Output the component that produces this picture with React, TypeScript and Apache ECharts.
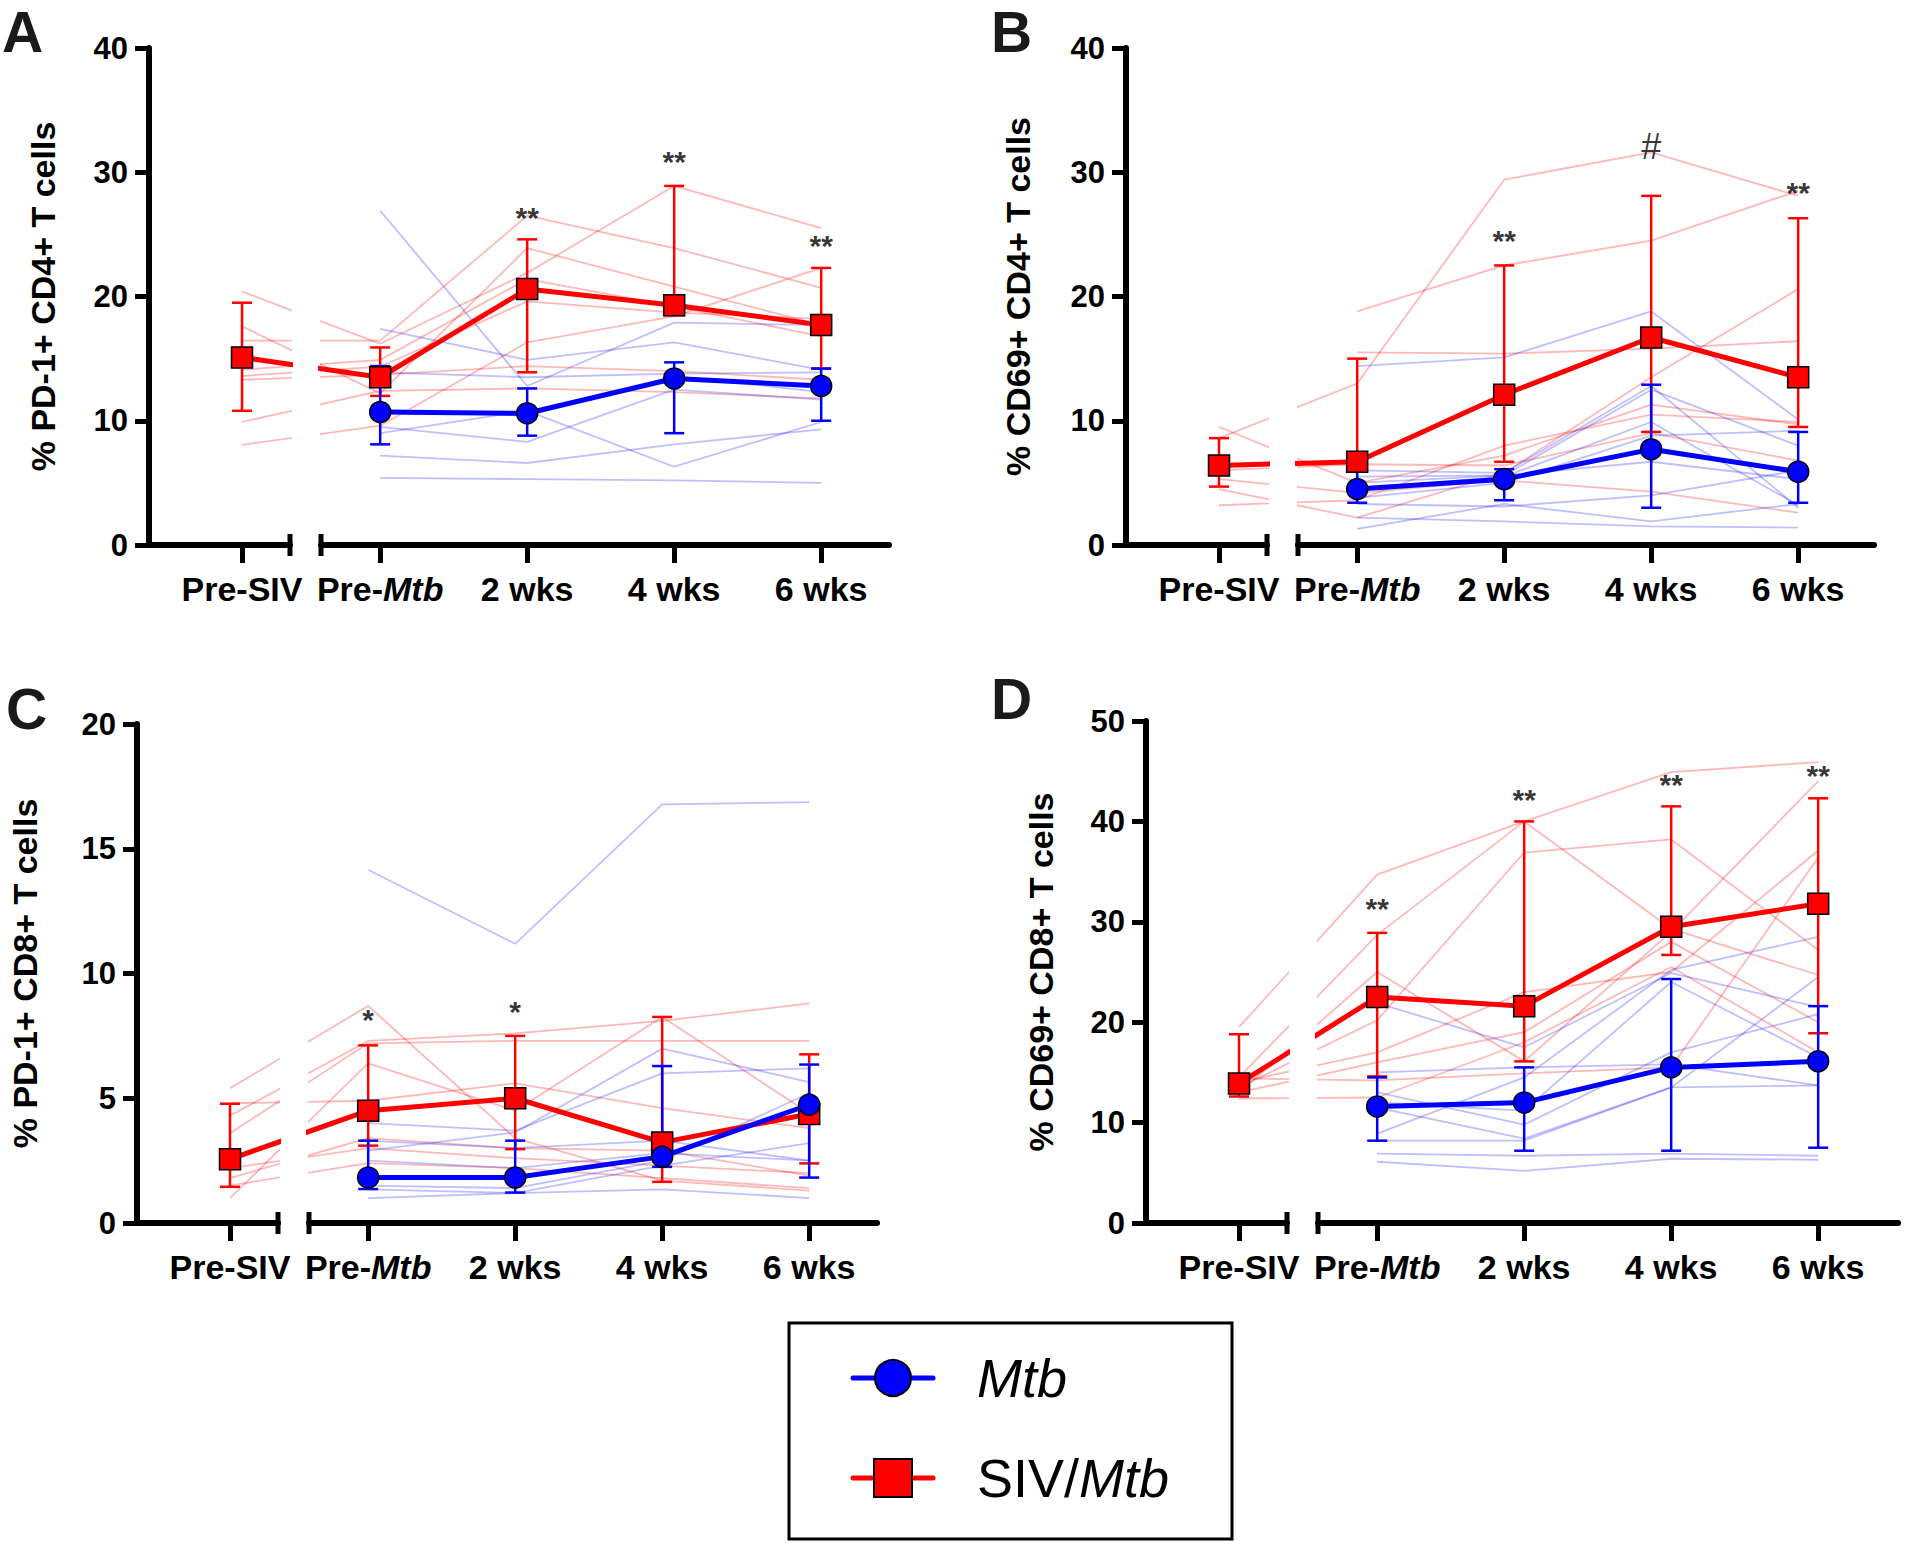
import React, { useEffect, useRef } from 'react';
import * as echarts from 'echarts';

// ---------- DATA ----------
const timepoints = ['Pre-SIV', 'Pre-Mtb', '2 wks', '4 wks', '6 wks'];
const timeX = [0, 0.94, 1.94, 2.94, 3.94];

// Panel A: % PD-1+ CD4+ T cells
const aRedMean = [15.1, 13.5, 20.6, 19.3, 17.7];
const aRedLow = [10.8, 12.0, 13.9, 18.5, 14.2];
const aRedHigh = [19.5, 15.9, 24.6, 28.9, 22.3];
const aBlueMean = [10.7, 10.6, 13.4, 12.8];
const aBlueLow = [8.1, 8.8, 9.0, 10.0];
const aBlueHigh = [14.4, 12.6, 14.7, 14.2];
const aRedAnimals = [
  [20.4, 16.2, 21.9, 28.9, 25.5],
  [16.45, 16.45, 26.5, 23.9, 20.7],
  [17.6, 12.2, 23.9, 20.8, 17.7],
  [14.1, 14.9, 21.4, 19.2, 16.8],
  [13.6, 14.35, 19.6, 18.7, 18.2],
  [13.3, 13.7, 14.4, 14.0, 13.3],
  [9.9, 12.4, 12.6, 12.3, 11.8],
  [8.06, 9.6, 16.3, 18.4, 22.3],
];
const aBlueAnimals = [
  [26.9, 12.8, 17.9, 17.7],
  [17.4, 14.9, 16.3, 14.1],
  [13.9, 13.5, 13.8, 13.9],
  [10.9, 10.4, 13.6, 12.3],
  [9.0, 10.8, 6.3, 9.9],
  [9.5, 8.3, 12.5, 11.7],
  [7.2, 6.6, 8.1, 9.3],
  [5.4, 5.3, 5.2, 5.0],
];
const aSigIdx = [2, 3, 4];
const aSigY = [26.9, 31.4, 24.7];
const aSigText = ['**', '**', '**'];

// Panel B: % CD69+ CD4+ T cells
const bRedMean = [6.4, 6.7, 12.1, 16.7, 13.5];
const bRedLow = [4.7, 6.2, 6.7, 9.1, 9.5];
const bRedHigh = [8.6, 15.0, 22.5, 28.1, 26.3];
const bBlueMean = [4.5, 5.3, 7.7, 5.9];
const bBlueLow = [3.4, 3.6, 3.0, 3.4];
const bBlueHigh = [6.1, 6.1, 12.9, 9.1];
const bRedAnimals = [
  [8.6, 13.0, 29.4, 31.6, 28.1],
  [9.5, 5.0, 7.2, 11.3, 9.7],
  [null, 18.8, 22.5, 24.5, 28.5],
  [5.3, 4.2, 5.2, 4.3, 2.6],
  [4.5, 2.2, 5.8, 13.5, 20.6],
  [3.2, 3.6, 8.0, 10.5, 9.9],
  [6.0, 6.5, 6.4, 9.0, 6.8],
  [null, 15.5, 15.4, 15.8, 16.4],
];
const bBlueAnimals = [
  [14.4, 15.1, 18.8, 10.1],
  [6.0, 5.8, 12.8, 3.0],
  [5.0, 5.6, 12.5, 8.0],
  [4.5, 5.5, 9.9, 3.2],
  [3.8, 5.0, 8.8, 9.2],
  [3.3, 3.1, 4.0, 6.0],
  [2.2, 1.9, 1.5, 1.4],
  [1.3, 3.3, 1.9, 3.3],
  [5.5, 5.6, 6.7, 5.3],
];
const bSigIdx = [2, 3, 4];
const bSigY = [25.1, 32.1, 28.95];
const bSigText = ['**', '#', '**'];

// Panel C: % PD-1+ CD8+ T cells
const cRedMean = [2.56, 4.5, 5.0, 3.23, 4.37];
const cRedLow = [1.45, 3.1, 2.96, 1.65, 2.39];
const cRedHigh = [4.78, 7.12, 7.5, 8.26, 6.76];
const cBlueMean = [1.82, 1.82, 2.66, 4.74];
const cBlueLow = [1.36, 1.22, 2.25, 1.82];
const cBlueHigh = [3.3, 3.3, 6.29, 6.35];
const cRedAnimals = [
  [5.4, 8.7, 3.4, 1.7, 1.3],
  [4.3, 7.3, 7.6, 8.1, 8.8],
  [3.6, 7.2, 7.3, 7.3, 7.3],
  [4.8, 4.9, 5.6, 4.6, 3.8],
  [1.0, 6.4, 4.5, 8.26, 4.4],
  [1.8, 3.4, 3.0, 2.9, 1.9],
  [1.5, 2.4, 2.2, 1.8, 1.4],
  [2.2, 3.0, 2.6, 2.3, 2.0],
];
const cBlueAnimals = [
  [14.16, 11.19, 16.78, 16.87],
  [2.9, 3.63, 6.99, 5.65],
  [4.0, 3.7, 6.0, 6.2],
  [3.3, 3.0, 3.3, 2.5],
  [2.5, 2.2, 2.8, 2.5],
  [1.35, 1.2, 1.35, 1.0],
  [1.0, 1.2, 2.3, 3.2],
  [1.5, 1.4, 2.5, 5.2],
];
const cSigIdx = [1, 2];
const cSigY = [8.44, 8.77];
const cSigText = ['*', '*'];

// Panel D: % CD69+ CD8+ T cells
const dRedMean = [13.9, 22.5, 21.6, 29.5, 31.8];
const dRedLow = [12.6, 14.6, 16.1, 26.7, 18.9];
const dRedHigh = [18.8, 28.9, 40.0, 41.5, 42.3];
const dBlueMean = [11.6, 12.0, 15.5, 16.1];
const dBlueLow = [8.2, 7.2, 7.2, 7.5];
const dBlueHigh = [14.5, 15.5, 24.3, 21.6];
const dRedAnimals = [
  [19.5, 34.7, 40.0, 44.9, 45.9],
  [14.5, 28.7, 40.0, 29.3, 24.7],
  [13.5, 20.2, 36.9, 38.2, 27.2],
  [13.0, 25.0, 16.1, 29.0, 44.0],
  [14.0, 17.0, 23.0, 25.0, 37.1],
  [14.4, 14.2, 14.9, 15.5, 36.4],
  [12.4, 12.5, 18.0, 25.5, 17.0],
  [13.0, 16.0, 19.0, 28.0, 20.0],
];
const dBlueAnimals = [
  [21.9, 17.5, 24.9, 21.5],
  [15.0, 15.5, 15.8, 13.7],
  [13.0, 9.8, 17.0, 20.8],
  [8.9, 14.5, 25.2, 28.5],
  [8.2, 8.2, 13.5, 13.7],
  [6.9, 6.7, 6.9, 6.7],
  [6.1, 5.2, 6.4, 6.3],
  [11.5, 8.4, 13.5, 24.5],
  [12.0, 11.2, 24.0, 16.5],
];
const dSigIdx = [1, 2, 3, 4];
const dSigY = [32.0, 42.9, 44.4, 45.3];
const dSigText = ['**', '**', '**', '**'];

const legendNames = ['Mtb', 'SIV/Mtb'];

// ---------- STYLE / LAYOUT ----------
const RED = '#ff0000';
const BLUE = '#0000ff';
const RED_LIGHT = 'rgba(255,0,0,0.28)';
const BLUE_LIGHT = 'rgba(0,0,255,0.25)';
const FONT = "'Liberation Sans', Arial, Helvetica, sans-serif";

const UNIT = 147; // px per x unit
const PRE = 93; // y axis -> Pre-SIV
const BREAK = 141; // y axis -> break end
const RSTART = 172; // y axis -> right segment start

const panels = [
  {
    letter: 'A', title: '% PD-1+ CD4+ T cells', yMax: 40, yInt: 10,
    redMean: aRedMean, redLow: aRedLow, redHigh: aRedHigh,
    blueMean: aBlueMean, blueLow: aBlueLow, blueHigh: aBlueHigh,
    redAnimals: aRedAnimals, blueAnimals: aBlueAnimals,
    sigIdx: aSigIdx, sigY: aSigY, sigText: aSigText,
    axisX: 149, top: 48, bottom: 545, end: 740, nameGap: 89, lx: 2, ly: 32,
  },
  {
    letter: 'B', title: '% CD69+ CD4+ T cells', yMax: 40, yInt: 10,
    redMean: bRedMean, redLow: bRedLow, redHigh: bRedHigh,
    blueMean: bBlueMean, blueLow: bBlueLow, blueHigh: bBlueHigh,
    redAnimals: bRedAnimals, blueAnimals: bBlueAnimals,
    sigIdx: bSigIdx, sigY: bSigY, sigText: bSigText,
    axisX: 1126, top: 48, bottom: 545, end: 748, nameGap: 91, lx: 991, ly: 32,
  },
  {
    letter: 'C', title: '% PD-1+ CD8+ T cells', yMax: 20, yInt: 5,
    redMean: cRedMean, redLow: cRedLow, redHigh: cRedHigh,
    blueMean: cBlueMean, blueLow: cBlueLow, blueHigh: cBlueHigh,
    redAnimals: cRedAnimals, blueAnimals: cBlueAnimals,
    sigIdx: cSigIdx, sigY: cSigY, sigText: cSigText,
    axisX: 137, top: 724, bottom: 1223, end: 740, nameGap: 95, lx: 6, ly: 709,
  },
  {
    letter: 'D', title: '% CD69+ CD8+ T cells', yMax: 50, yInt: 10,
    redMean: dRedMean, redLow: dRedLow, redHigh: dRedHigh,
    blueMean: dBlueMean, blueLow: dBlueLow, blueHigh: dBlueHigh,
    redAnimals: dRedAnimals, blueAnimals: dBlueAnimals,
    sigIdx: dSigIdx, sigY: dSigY, sigText: dSigText,
    axisX: 1146, top: 721, bottom: 1223, end: 752, nameGap: 88, lx: 991, ly: 699,
  },
];

function labelFor(v: number) {
  let idx = 0;
  let best = Infinity;
  timeX.forEach((x, i) => {
    const d = Math.abs(x - v);
    if (d < best) { best = d; idx = i; }
  });
  const t = timepoints[idx];
  if (t === 'Pre-Mtb') return '{n|Pre-}{i|Mtb}';
  return '{n|' + t + '}';
}

const xRich = {
  n: { fontSize: 34, fontWeight: 'bold', fontFamily: FONT, color: '#000' },
  i: { fontSize: 34, fontWeight: 'bold', fontStyle: 'italic', fontFamily: FONT, color: '#000' },
};

function errRender(color: string) {
  return (params: any, api: any) => {
    const x = api.value(0);
    const lo = api.coord([x, api.value(1)]);
    const hi = api.coord([x, api.value(2)]);
    const hw = 10;
    const st = { stroke: color, lineWidth: 2.5, fill: 'none' };
    return {
      type: 'group',
      children: [
        { type: 'line', shape: { x1: lo[0], y1: lo[1], x2: hi[0], y2: hi[1] }, style: st },
        { type: 'line', shape: { x1: hi[0] - hw, y1: hi[1], x2: hi[0] + hw, y2: hi[1] }, style: st },
        { type: 'line', shape: { x1: lo[0] - hw, y1: lo[1], x2: lo[0] + hw, y2: lo[1] }, style: st },
      ],
    };
  };
}

function toPoints(xs: number[], vals: (number | null)[]) {
  const out: number[][] = [];
  vals.forEach((v, i) => { if (v !== null && v !== undefined) out.push([xs[i], v]); });
  return out;
}

function buildOption() {
  const grid: any[] = [];
  const xAxis: any[] = [];
  const yAxis: any[] = [];
  const series: any[] = [];
  const graphic: any[] = [];

  panels.forEach((p, k) => {
    const gl = 2 * k;
    const gr = 2 * k + 1;
    const h = p.bottom - p.top;
    grid.push({ left: p.axisX, top: p.top, width: BREAK, height: h, outerBoundsMode: 'none', containLabel: false });
    grid.push({ left: p.axisX + RSTART, top: p.top, width: p.end - RSTART, height: h, outerBoundsMode: 'none', containLabel: false });

    const axisLine = { show: true, onZero: false, lineStyle: { color: '#000', width: 6 } };
    xAxis.push({
      type: 'value', gridIndex: gl, min: -PRE / UNIT, max: (BREAK - PRE) / UNIT, position: 'bottom',
      axisLine, splitLine: { show: false },
      axisTick: { show: true, customValues: [timeX[0]], length: 18, lineStyle: { color: '#000', width: 5 } },
      axisLabel: { show: true, customValues: [timeX[0]], formatter: (v: number) => labelFor(v), rich: xRich, margin: 27 },
    });
    xAxis.push({
      type: 'value', gridIndex: gr, min: (RSTART - PRE) / UNIT, max: (p.end - PRE) / UNIT, position: 'bottom',
      axisLine, splitLine: { show: false },
      axisTick: { show: true, customValues: timeX.slice(1), length: 18, lineStyle: { color: '#000', width: 5 } },
      axisLabel: { show: true, customValues: timeX.slice(1), formatter: (v: number) => labelFor(v), rich: xRich, margin: 27 },
    });
    yAxis.push({
      type: 'value', gridIndex: gl, min: 0, max: p.yMax, interval: p.yInt, position: 'left',
      axisLine, splitLine: { show: false },
      axisTick: { show: true, length: 14, lineStyle: { color: '#000', width: 5 } },
      axisLabel: { fontSize: 31, fontWeight: 'bold', fontFamily: FONT, color: '#000', margin: 21 },
      name: p.title, nameLocation: 'middle', nameGap: p.nameGap, nameRotate: 90,
      nameTextStyle: { fontSize: 34, fontWeight: 'bold', fontFamily: FONT, color: '#000' },
    });
    yAxis.push({
      type: 'value', gridIndex: gr, min: 0, max: p.yMax, interval: p.yInt, show: false,
    });

    // individual animals
    p.redAnimals.forEach((a) => {
      [gl, gr].forEach((g) => {
        series.push({
          type: 'line', xAxisIndex: g, yAxisIndex: g, data: toPoints(timeX, a),
          symbol: 'none', lineStyle: { color: RED_LIGHT, width: 1.8 }, silent: true, z: 1, clip: true,
        });
      });
    });
    p.blueAnimals.forEach((b) => {
      series.push({
        type: 'line', xAxisIndex: gr, yAxisIndex: gr, data: toPoints(timeX.slice(1), b),
        symbol: 'none', lineStyle: { color: BLUE_LIGHT, width: 1.8 }, silent: true, z: 1, clip: true,
      });
    });

    // error bars
    series.push({
      type: 'custom', xAxisIndex: gl, yAxisIndex: gl, renderItem: errRender(RED),
      data: [[timeX[0], p.redLow[0], p.redHigh[0]]], encode: { x: 0, y: [1, 2] }, z: 2,
    });
    series.push({
      type: 'custom', xAxisIndex: gr, yAxisIndex: gr, renderItem: errRender(RED),
      data: timeX.slice(1).map((x, i) => [x, p.redLow[i + 1], p.redHigh[i + 1]]), encode: { x: 0, y: [1, 2] }, z: 2,
    });
    series.push({
      type: 'custom', xAxisIndex: gr, yAxisIndex: gr, renderItem: errRender(BLUE),
      data: timeX.slice(1).map((x, i) => [x, p.blueLow[i], p.blueHigh[i]]), encode: { x: 0, y: [1, 2] }, z: 2,
    });

    // means
    const redStyle = {
      type: 'line', symbol: 'rect', symbolSize: 21,
      lineStyle: { color: RED, width: 5 },
      itemStyle: { color: RED, borderColor: '#000', borderWidth: 1.5 }, z: 3, clip: true,
    };
    series.push({ ...redStyle, name: legendNames[1], xAxisIndex: gl, yAxisIndex: gl, data: toPoints(timeX.slice(0, 2), p.redMean.slice(0, 2)) });
    series.push({ ...redStyle, name: legendNames[1], xAxisIndex: gr, yAxisIndex: gr, data: toPoints(timeX, p.redMean) });
    series.push({
      type: 'line', name: legendNames[0], xAxisIndex: gr, yAxisIndex: gr, symbol: 'circle', symbolSize: 21,
      data: toPoints(timeX.slice(1), p.blueMean),
      lineStyle: { color: BLUE, width: 5 },
      itemStyle: { color: BLUE, borderColor: '#000', borderWidth: 1.5 }, z: 4, clip: true,
    });

    // significance marks
    series.push({
      type: 'scatter', xAxisIndex: gr, yAxisIndex: gr, symbolSize: 1, itemStyle: { color: 'rgba(0,0,0,0)' }, z: 5,
      data: p.sigIdx.map((ix, j) => ({
        value: [timeX[ix], p.sigY[j]],
        label: {
          show: true, position: 'inside', formatter: p.sigText[j], color: '#000',
          fontFamily: FONT,
          fontSize: p.sigText[j] === '#' ? 36 : 30,
          fontWeight: p.sigText[j] === '#' ? 'normal' : 'bold',
          offset: [0, p.sigText[j] === '#' ? 0 : 7],
        },
      })),
    });

    // axis break caps
    [p.axisX + BREAK, p.axisX + RSTART].forEach((cx) => {
      graphic.push({
        type: 'line', shape: { x1: cx, y1: p.bottom - 11, x2: cx, y2: p.bottom + 11 },
        style: { stroke: '#000', lineWidth: 5 }, z: 10,
      });
    });

    // panel letter
    graphic.push({
      type: 'text', x: p.lx, y: p.ly,
      style: { text: p.letter, fontSize: 57, fontWeight: 'bold', fontFamily: FONT, fill: '#1a1a1a', textAlign: 'left', textVerticalAlign: 'middle' },
    });
  });

  // legend
  graphic.push({ type: 'rect', shape: { x: 789, y: 1323, width: 443, height: 216 }, style: { fill: '#fff', stroke: '#000', lineWidth: 3 }, z: 1 });
  graphic.push({ type: 'line', shape: { x1: 853, y1: 1378, x2: 933, y2: 1378 }, style: { stroke: BLUE, lineWidth: 5, lineCap: 'round' }, z: 2 });
  graphic.push({ type: 'circle', shape: { cx: 893, cy: 1378, r: 18 }, style: { fill: BLUE, stroke: '#000', lineWidth: 2 }, z: 3 });
  graphic.push({ type: 'line', shape: { x1: 853, y1: 1478, x2: 933, y2: 1478 }, style: { stroke: RED, lineWidth: 5, lineCap: 'round' }, z: 2 });
  graphic.push({ type: 'rect', shape: { x: 874, y: 1459, width: 38, height: 38 }, style: { fill: RED, stroke: '#000', lineWidth: 2 }, z: 3 });
  graphic.push({
    type: 'text', x: 977, y: 1378, z: 3,
    style: { text: legendNames[0], fontSize: 54, fontStyle: 'italic', fontFamily: FONT, fill: '#000', textAlign: 'left', textVerticalAlign: 'middle' },
  });
  graphic.push({
    type: 'text', x: 977, y: 1478, z: 3,
    style: {
      text: '{n|SIV/}{i|Mtb}', fill: '#000', textAlign: 'left', textVerticalAlign: 'middle',
      rich: {
        n: { fontSize: 54, fontFamily: FONT, color: '#000' },
        i: { fontSize: 54, fontFamily: FONT, fontStyle: 'italic', color: '#000' },
      },
    },
  });

  return {
    animation: false,
    backgroundColor: '#ffffff',
    grid, xAxis, yAxis, series, graphic,
  };
}

export default function App() {
  const ref = useRef<HTMLDivElement>(null);
  useEffect(() => {
    if (!ref.current) return;
    const chart = echarts.init(ref.current, null, { renderer: 'svg' });
    chart.setOption(buildOption() as any);
    return () => chart.dispose();
  }, []);
  return (
    <div
      ref={ref}
      style={{ position: 'absolute', left: 0, top: 0, width: 1920, height: 1547, background: '#fff' }}
    />
  );
}
